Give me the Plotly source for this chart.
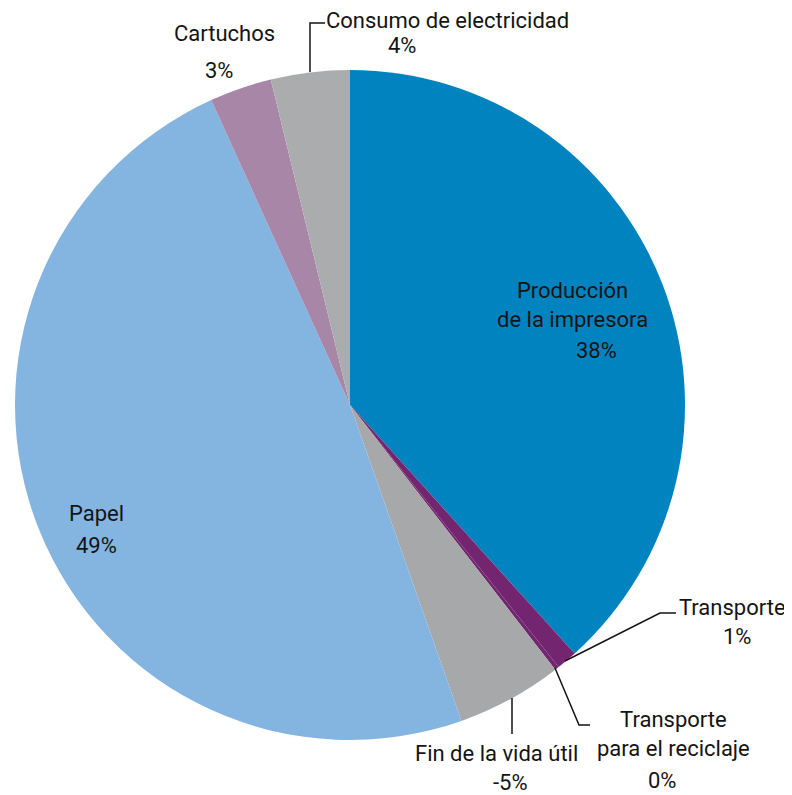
import plotly.graph_objects as go

# Valores (sentido horario desde las 12)
categorias = ["Producción de la impresora", "Transporte", "Transporte para el reciclaje",
              "Fin de la vida útil", "Papel", "Cartuchos", "Consumo de electricidad"]
nombres = ["Producción<br>de la impresora", "Transporte", "Transporte<br>para el reciclaje",
           "Fin de la vida útil", "Papel", "Cartuchos", "Consumo de electricidad"]
porcentajes = [38.3, 1.0, 0.2, 5.1, 48.6, 3.0, 3.8]
etiquetas = ["38%", "1%", "0%", "-5%", "49%", "3%", "4%"]
colores = ["#0083BF", "#74256F", "#74256F", "#A7A8AA", "#84B4E0", "#A886A8", "#ABACAE"]

SW, SH = 792, 795          # tamaño de la ventana
OFF = 8                    # la página se dibuja desplazada 8 px (margen del body)
W, H = SW - OFF, SH - OFF  # tamaño de la figura para que quepa sin barras
FONT = "Roboto"
TXT = "#141414"

fig = go.Figure()
fig.add_trace(go.Pie(
    labels=categorias,
    values=porcentajes,
    sort=False,
    direction="clockwise",
    rotation=0,
    textinfo="none",
    hoverinfo="label+value",
    marker=dict(colors=colores, line=dict(width=0)),
    domain=dict(x=[(15 - OFF) / W, (685 - OFF) / W],
                y=[1 - (740 - OFF) / H, 1 - (70 - OFF) / H]),
    showlegend=False,
))

# posiciones (centro) de nombres y porcentajes, en píxeles de pantalla
nombre_pos = [(572, 305), (788, 607), (673, 734), (496, 753), (96, 513), (224, 33), (447, 20)]
pct_pos = [(596, 350), (737, 636), (662, 780), (510, 782), (96, 545), (219, 70), (402, 45)]

annotations = []
for i, (nombre, pct) in enumerate(zip(nombres, etiquetas)):
    nx, ny = nombre_pos[i]
    px_, py_ = pct_pos[i]
    annotations.append(dict(x=nx, y=ny, text=nombre, showarrow=False, xref="x", yref="y",
                            xanchor="right" if i == 1 else "center",
                            font=dict(family=FONT, size=22, color=TXT), align="center"))
    annotations.append(dict(x=px_, y=py_, text=pct, showarrow=False, xref="x", yref="y",
                            font=dict(family=FONT, size=22, color=TXT)))

# líneas guía
lineas = [
    [(565, 661), (660, 613), (676, 613)],
    [(555, 668), (579, 725), (590, 725)],
    [(512, 698), (512, 734)],
    [(310, 72), (310, 23), (325, 23)],
]
shapes = []
for pts in lineas:
    path = "M " + " L ".join(f"{x},{y}" for x, y in pts)
    shapes.append(dict(type="path", path=path, xref="x", yref="y",
                       line=dict(color=TXT, width=1.5)))

fig.update_layout(
    width=W, height=H,
    margin=dict(l=0, r=0, t=0, b=0),
    paper_bgcolor="white", plot_bgcolor="rgba(0,0,0,0)",
    xaxis=dict(range=[OFF, SW], visible=False, fixedrange=True),
    yaxis=dict(range=[SH, OFF], visible=False, fixedrange=True),
    annotations=annotations,
    shapes=shapes,
)

fig.write_html("out.html")
